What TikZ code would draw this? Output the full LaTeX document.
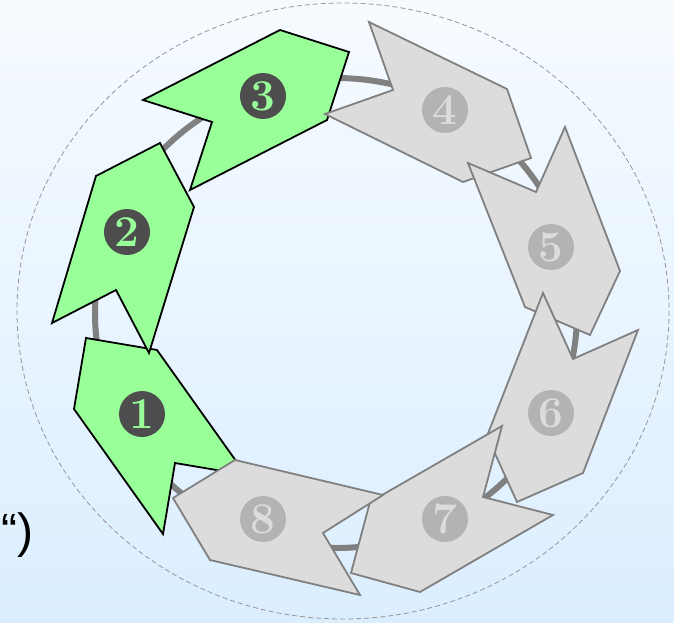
\documentclass[tikz,border=0pt]{standalone}
\usepackage{fontspec}
\newfontfamily\quotefont{Liberation Sans}
\definecolor{bgtop}{RGB}{246,251,255}
\definecolor{bgbottom}{RGB}{219,238,255}
\definecolor{activegreen}{RGB}{153,255,153}
\definecolor{idlefill}{RGB}{220,220,220}
\definecolor{idleborder}{RGB}{128,128,128}
\definecolor{ringgray}{RGB}{128,128,128}
\definecolor{numdark}{RGB}{77,77,77}
\definecolor{numlight}{RGB}{179,179,179}
\definecolor{dashgray}{RGB}{150,150,150}
\begin{document}
\begin{tikzpicture}[x=1pt,y=-1pt,
  ringline/.style={draw=ringgray, line width=6pt},
  outerline/.style={draw=dashgray, line width=0.8pt, dash pattern=on 5pt off 3pt},
  activeshape/.style={draw=black, line width=1.8pt, fill=activegreen, line join=miter},
  idleshape/.style={draw=idleborder, line width=1.8pt, fill=idlefill, line join=miter},
  activenum/.style={circle, fill=numdark, text=activegreen, minimum size=46pt, inner sep=0pt, font=\fontsize{44}{44}\selectfont\bfseries},
  idlenum/.style={circle, fill=numlight, text=idlefill, minimum size=46pt, inner sep=0pt, font=\fontsize{44}{44}\selectfont\bfseries}]
\useasboundingbox (0,0) rectangle (674,623);
\shade[top color=bgtop, bottom color=bgbottom] (0,0) rectangle (674,623);
% outer dashed circle and ring
\draw[outerline] (343,311) ellipse [x radius=326, y radius=308];
\draw[ringline] (336,313) ellipse [x radius=241, y radius=235];
% chevrons
\draw[activeshape] (86,338) -- (157,350) -- (246,475) -- (175,463) -- (163,534) -- (74,409) -- cycle;
\node[activenum] (n1) at (142,414) {1};
\draw[activeshape] (160,143) -- (194,207) -- (149,353) -- (116,290) -- (52,323) -- (96,176) -- cycle;
\node[activenum] (n2) at (127,232) {2};
\draw[activeshape] (349,52) -- (327,120) -- (190,190) -- (212,122) -- (143,100) -- (280,30) -- cycle;
\node[activenum] (n3) at (263,96) {3};
\draw[idleshape] (531,158) -- (463,182) -- (325,114) -- (393,90) -- (369,22) -- (507,89) -- cycle;
\node[idlenum] (n4) at (445,110) {4};
\draw[idleshape] (590,335) -- (525,307) -- (468,163) -- (536,192) -- (565,127) -- (620,271) -- cycle;
\node[idlenum] (n5) at (551,247) {5};
\draw[idleshape] (517,502) -- (487,436) -- (543,293) -- (573,359) -- (638,330) -- (583,473) -- cycle;
\node[idlenum] (n6) at (551,413) {6};
\draw[idleshape] (351,573) -- (370,502) -- (502,426) -- (483,497) -- (553,515) -- (420,592) -- cycle;
\node[idlenum] (n7) at (445,519) {7};
\draw[idleshape] (173,498) -- (235,460) -- (383,495) -- (323,533) -- (360,595) -- (210,560) -- cycle;
\node[idlenum] (n8) at (263,519) {8};
% cut-off text at left
\node[anchor=base east, inner sep=0pt, font=\quotefont\fontsize{48}{48}\selectfont] (tail) at (34,547) {“)};
\end{tikzpicture}
\end{document}
